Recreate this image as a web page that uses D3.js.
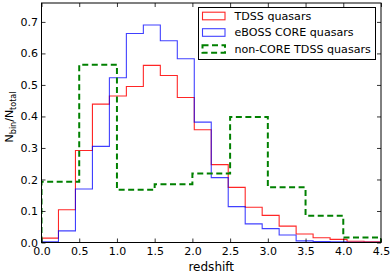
<!DOCTYPE html>
<html>
<head>
<meta charset="utf-8">
<script src="https://cdn.jsdelivr.net/npm/d3@7"></script>
<style>
  html, body { margin: 0; padding: 0; background: #fff; }
  svg { display: block; font-family: "DejaVu Sans", sans-serif; }
</style>
</head>
<body>
<div id="chart"></div>
<script>
// Histogram bin edges (redshift)
const fineEdges = d3.range(0, 21).map(i => i * 0.225);
const coarseEdges = d3.range(0, 10).map(i => i * 0.5);

// Normalised counts per bin
const tdssValues = [0.014, 0.104, 0.292, 0.439, 0.465, 0.495, 0.562, 0.530, 0.460, 0.358,
                    0.247, 0.175, 0.112, 0.086, 0.052, 0.027, 0.015, 0.010, 0.004, 0.002];
const ebossValues = [0.002, 0.037, 0.170, 0.305, 0.523, 0.663, 0.690, 0.640, 0.583, 0.382,
                     0.206, 0.114, 0.059, 0.044, 0.024, 0.005, 0.003, 0.002, 0.001, 0.001];
const nonCoreValues = [0.193, 0.564, 0.167, 0.185, 0.219, 0.398, 0.175, 0.085, 0.016];

const xTicks = [0, 0.5, 1, 1.5, 2, 2.5, 3, 3.5, 4, 4.5];
const yTicks = [0, 0.1, 0.2, 0.3, 0.4, 0.5, 0.6, 0.7];
const legendLabels = ['TDSS quasars', 'eBOSS CORE quasars', 'non-CORE TDSS quasars'];

const width = 391, height = 274;
const margin = { left: 41.5, right: 10, top: 3, bottom: 31.5 };

const svg = d3.select('#chart').append('svg')
    .attr('width', width)
    .attr('height', height);

const x = d3.scaleLinear().domain([0, 4.5]).range([margin.left, width - margin.right]);
const y = d3.scaleLinear().domain([0, 0.76]).range([height - margin.bottom, margin.top]);

svg.append('clipPath').attr('id', 'plot-clip')
  .append('rect')
    .attr('x', x(0)).attr('y', y(0.76))
    .attr('width', x(4.5) - x(0)).attr('height', y(0) - y(0.76));

// Turn bins into a step outline
function stepPoints(edges, values) {
    const pts = [[edges[0], 0]];
    values.forEach((v, i) => {
        pts.push([edges[i], v]);
        pts.push([edges[i + 1], v]);
    });
    pts.push([edges[values.length], 0]);
    return pts;
}

const line = d3.line().x(d => x(d[0])).y(d => y(d[1]));

const series = [
    { edges: fineEdges, values: tdssValues, color: '#ff0000', width: 1.1, dash: null, opacity: 0.85 },
    { edges: fineEdges, values: ebossValues, color: '#0000ff', width: 1.1, dash: null, opacity: 0.75 },
    { edges: coarseEdges, values: nonCoreValues, color: '#008000', width: 2, dash: '6,3.5', opacity: 1 }
];

const plot = svg.append('g').attr('clip-path', 'url(#plot-clip)');
series.forEach(s => {
    plot.append('path')
        .datum(stepPoints(s.edges, s.values))
        .attr('d', line)
        .attr('fill', 'none')
        .attr('stroke', s.color)
        .attr('stroke-width', s.width)
        .attr('stroke-opacity', s.opacity)
        .attr('stroke-dasharray', s.dash);
});

// Axes with inward ticks on all four sides
const fmt = d3.format('.1f');
const axisStyle = g => {
    g.select('.domain').remove();
    g.selectAll('.tick line').attr('stroke', '#000').attr('stroke-width', 0.8);
    g.selectAll('.tick text').attr('fill', '#000').style('font-size', '11px')
        .style('font-family', '"DejaVu Sans", sans-serif');
};

svg.append('g')
    .attr('transform', `translate(0,${y(0)})`)
    .call(d3.axisBottom(x).tickValues(xTicks).tickFormat(fmt).tickSize(-4).tickPadding(4.5))
    .call(axisStyle);
svg.append('g')
    .attr('transform', `translate(0,${y(0.76)})`)
    .call(d3.axisTop(x).tickValues(xTicks).tickFormat('').tickSize(-4))
    .call(axisStyle);
svg.append('g')
    .attr('transform', `translate(${x(0)},0)`)
    .call(d3.axisLeft(y).tickValues(yTicks).tickFormat(fmt).tickSize(-4).tickPadding(3.5))
    .call(axisStyle);
svg.append('g')
    .attr('transform', `translate(${x(4.5)},0)`)
    .call(d3.axisRight(y).tickValues(yTicks).tickFormat('').tickSize(-4))
    .call(axisStyle);

// Frame
svg.append('rect')
    .attr('x', x(0)).attr('y', y(0.76))
    .attr('width', x(4.5) - x(0)).attr('height', y(0) - y(0.76))
    .attr('fill', 'none').attr('stroke', '#000').attr('stroke-width', 1);

// Axis labels
svg.append('text')
    .attr('x', (x(0) + x(4.5)) / 2)
    .attr('y', 270.5)
    .attr('text-anchor', 'middle')
    .style('font-size', '12px')
    .text('redshift');

const yl = svg.append('text')
    .attr('transform', `translate(13,117) rotate(-90)`)
    .attr('text-anchor', 'middle')
    .style('font-size', '11px');
yl.append('tspan').text('N');
yl.append('tspan').attr('dy', 2.5).style('font-size', '8px').text('bin');
yl.append('tspan').attr('dy', -2.5).text('/N');
yl.append('tspan').attr('dy', 2.5).style('font-size', '8px').text('total');

// Legend
const legend = svg.append('g');
legend.append('rect')
    .attr('x', 198.5).attr('y', 7.5).attr('width', 177).attr('height', 52)
    .attr('fill', '#fff').attr('stroke', '#000').attr('stroke-width', 1);

const rowY = [16, 32.5, 49];
legendLabels.forEach((label, i) => {
    const s = series[i];
    legend.append('rect')
        .attr('x', 202.5).attr('y', rowY[i] - 3.8)
        .attr('width', 22.5).attr('height', 7.6)
        .attr('fill', 'none')
        .attr('stroke', s.color)
        .attr('stroke-width', s.width)
        .attr('stroke-opacity', s.opacity)
        .attr('stroke-dasharray', s.dash);
    legend.append('text')
        .attr('x', 234.5)
        .attr('y', rowY[i])
        .attr('dy', '0.36em')
        .style('font-size', '11.1px')
        .text(label);
});
</script>
</body>
</html>
